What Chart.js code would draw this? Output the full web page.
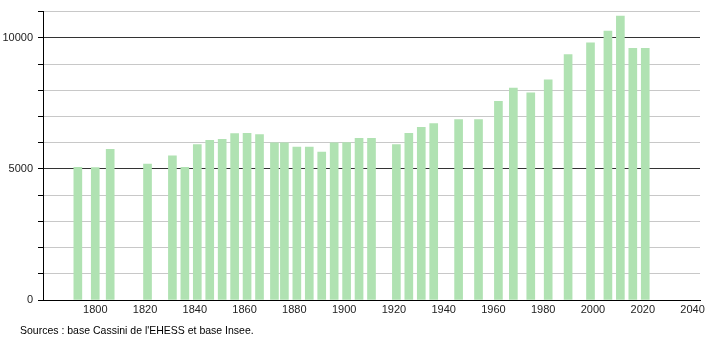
<!doctype html>
<html lang="fr">
  <head>
    <meta charset="utf-8">
    <title>Population</title>
    <style>
      * { margin: 0; padding: 0; box-sizing: border-box; }
      body { background: #fff; font-family: "Liberation Sans", Arial, sans-serif; }
      #wrap { position: relative; width: 710px; height: 340px; }
      #source { position: absolute; left: 20px; top: 324px; font-size: 10.5px; color: #000; }
    </style>
  </head>
  <body>
    <div id="wrap">
      <canvas id="popChart" width="710" height="340"></canvas>
      <div id="source">Sources : base Cassini de l'EHESS et base Insee.</div>
    </div>
    <script src="https://cdn.jsdelivr.net/npm/chart.js@4/dist/chart.umd.min.js"></script>
    <script>
      // annees de recensement et population
      const years = [1793, 1800, 1806, 1821, 1831, 1836, 1841, 1846, 1851, 1856, 1861, 1866,
                     1872, 1876, 1881, 1886, 1891, 1896, 1901, 1906, 1911, 1921, 1926, 1931,
                     1936, 1946, 1954, 1962, 1968, 1975, 1982, 1990, 1999, 2006, 2011, 2016, 2021];
      const population = [5060, 5050, 5750, 5180, 5500, 5060, 5930, 6090, 6130, 6350, 6360, 6310,
                          5990, 5990, 5830, 5830, 5640, 5990, 6000, 6170, 6170, 5930, 6360, 6590,
                          6730, 6880, 6880, 7580, 8080, 7900, 8400, 9360, 9810, 10260, 10830, 9600, 9600];
      const xTicks = [1800, 1820, 1840, 1860, 1880, 1900, 1920, 1940, 1960, 1980, 2000, 2020, 2040];
      const yLabels = [0, 5000, 10000];

      const points = years.map((yr, i) => ({ x: yr, y: population[i] }));

      new Chart(document.getElementById('popChart'), {
        type: 'bar',
        data: {
          datasets: [{
            data: points,
            backgroundColor: '#b0e2b2',
            borderWidth: 0,
            barThickness: 8
          }]
        },
        options: {
          responsive: false,
          animation: false,
          layout: { padding: { left: 0, right: 10, top: 10, bottom: 22 } },
          plugins: { legend: { display: false }, tooltip: { enabled: false } },
          scales: {
            x: {
              type: 'linear',
              offset: false,
              min: 1779,
              max: 2043,
              grid: { display: false, drawTicks: false },
              border: { display: true, color: '#000', width: 1 },
              afterBuildTicks: (scale) => { scale.ticks = xTicks.map(v => ({ value: v })); },
              afterFit: (scale) => { scale.height = 18; },
              ticks: {
                color: '#222',
                padding: 3,
                maxRotation: 0,
                autoSkip: false,
                font: { family: 'Liberation Sans', size: 11 },
                callback: (v) => String(v)
              }
            },
            y: {
              min: 0,
              max: 11000,
              afterFit: (scale) => { scale.width = 43; },
              grid: {
                color: (ctx) => (ctx.tick.value % 5000 === 0 ? '#333' : '#c8c8c8'),
                tickColor: '#000',
                tickLength: 5
              },
              border: { display: true, color: '#000', width: 1 },
              ticks: {
                stepSize: 1000,
                color: '#222',
                padding: 5,
                font: { family: 'Liberation Sans', size: 11 },
                callback: (v) => (yLabels.includes(v) ? String(v) : '')
              }
            }
          }
        }
      });
    </script>
  </body>
</html>
